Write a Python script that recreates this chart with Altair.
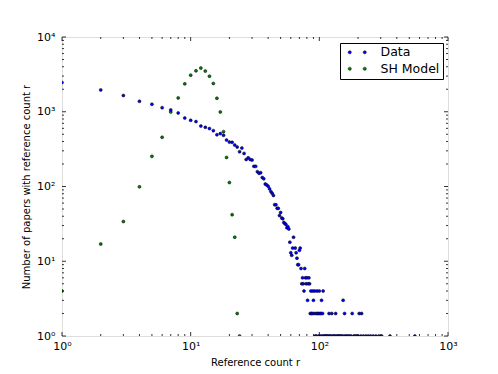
import altair as alt
import pandas as pd

# ---- data ----
data_r = [1, 2, 3, 4, 5, 6, 7, 8, 9, 10, 11, 12, 13, 14, 15, 16, 17, 18, 19, 20,
          21, 22, 23, 24, 25, 26, 27, 28, 29, 30, 31, 32, 33, 34, 35, 36, 37, 38, 39, 40,
          41, 42, 43, 44, 45, 46, 47, 48, 49, 50, 51, 52, 53, 54, 55, 56, 57, 58, 59, 60,
          61, 62, 63, 65, 66, 67, 68, 69, 70, 71]
data_n = [2460, 1960, 1650, 1380, 1260, 1135, 1057, 965, 825, 768, 738, 645, 619, 595, 559, 493, 510, 484, 418, 393,
          390, 358, 337, 292, 327, 277, 230, 242, 230, 226, 186, 186, 158, 150, 153, 132, 127, 108, 105, 101,
          93, 86, 81, 76, 57, 57, 51, 51, 41, 45, 38, 37, 33, 32, 31, 28, 29, 27, 18, 13,
          12, 15, 21, 15, 13, 11, 9, 9, 14, 15]

# sparse tail: rows of equal counts
tail_8 = [72, 77]
tail_6 = [74, 78, 80, 83]
tail_5 = [73, 75, 79, 82, 84]
tail_4 = [76, 86, 89, 92, 96, 100, 107]
tail_3 = [81, 90, 104, 153]
tail_2 = [85, 87, 88, 91, 94, 97, 98, 101, 103, 106, 119, 125, 134, 157, 180, 204, 213]
tail_1 = [93, 95, 99, 102, 105, 108, 110, 112, 114, 116, 118, 121, 123, 127, 130, 132, 136,
          139, 141, 144, 147, 150, 155, 160, 163, 167, 172, 176, 185, 190, 195, 200, 210,
          220, 230, 240, 250, 262, 275, 290, 305, 354, 553]

model_r = [1, 2, 3, 4, 5, 6, 7, 8, 9, 10, 11, 12, 13, 14, 15, 16, 17, 18, 19, 20, 21, 22, 23, 24]
model_n = [4, 17, 34, 99, 253, 455, 994, 1532, 2360, 3090, 3530, 3840, 3500, 2990, 2390, 1515,
           994, 542, 245, 113, 42, 21, 2, 1]

series_names = ["Data", "SH Model"]
series_colors = ["#0000ff", "#008000"]

x_major = [1, 10, 100, 1000]
y_major = [1, 10, 100, 1000, 10000]
mults = [2, 3, 4, 5, 6, 7, 8, 9]
x_minor = [m * d for d in [1, 10, 100] for m in mults]
y_minor = [m * d for d in [1, 10, 100, 1000] for m in mults]

# ---- build table ----
rows = [(r, n, "Data") for r, n in zip(data_r, data_n)]
for cnt, lst in [(8, tail_8), (6, tail_6), (5, tail_5), (4, tail_4), (3, tail_3), (2, tail_2), (1, tail_1)]:
    rows += [(r, cnt, "Data") for r in lst]
rows += [(r, n, "SH Model") for r, n in zip(model_r, model_n)]
df = pd.DataFrame(rows, columns=["x", "y", "series"])

W, H = 386, 299
FONT = "DejaVu Sans"

xs = alt.Scale(type="log", domain=[1, 1000], nice=False)
ys = alt.Scale(type="log", domain=[1, 10000], nice=False)

sup = ("datum.value < 5 ? '10⁰' : datum.value < 50 ? '10¹' : datum.value < 500 ? '10²' : "
       "datum.value < 5000 ? '10³' : '10⁴'")

# two-dot legend symbol (path scaled by sqrt(size)/2)
two_dots = ("M-1.82,0a0.32,0.32 0 1,0 0.64,0a0.32,0.32 0 1,0 -0.64,0Z "
            "M1.18,0a0.32,0.32 0 1,0 0.64,0a0.32,0.32 0 1,0 -0.64,0Z")

x_axis = alt.Axis(values=x_major, labelExpr=sup, ticks=False, domain=False, grid=False,
                  title="Reference count r", labelPadding=4, titlePadding=6, labelFlush=False,
                  labelFontSize=11, titleFontSize=10, labelFont=FONT, titleFont=FONT,
                  titleFontWeight="normal", labelColor="black", titleColor="black")
y_axis = alt.Axis(values=y_major, labelExpr=sup, ticks=False, domain=False, grid=False,
                  title="Number of papers with reference count r", labelPadding=7,
                  titlePadding=5, labelFlush=False, labelFontSize=11, titleFontSize=10,
                  labelFont=FONT, titleFont=FONT, titleFontWeight="normal",
                  labelColor="black", titleColor="black")

points = alt.Chart(df).mark_point(
    filled=True, size=9, stroke="#000000", strokeWidth=0.5, opacity=1, clip=True
).encode(
    x=alt.X("x:Q", scale=xs, axis=x_axis),
    y=alt.Y("y:Q", scale=ys, axis=y_axis),
    color=alt.Color("series:N",
                    scale=alt.Scale(domain=series_names, range=series_colors),
                    legend=alt.Legend(title=None, orient="none", legendX=278, legendY=6,
                                      symbolType=two_dots, symbolSize=100,
                                      symbolStrokeColor="black", symbolStrokeWidth=0.5,
                                      symbolOffset=8, labelOffset=17, padding=3,
                                      rowPadding=3.5, labelFontSize=12.5, labelFont=FONT,
                                      labelColor="black", strokeColor="black",
                                      fillColor="white", cornerRadius=0)),
    order=alt.Order("series:N", sort="descending"),
)

xt_major = pd.DataFrame({"x": x_major})
xt_minor = pd.DataFrame({"x": x_minor})
yt_major = pd.DataFrame({"y": y_major})
yt_minor = pd.DataFrame({"y": y_minor})


def xticks(d, ln):
    b = alt.Chart(d).mark_rule(color="black", strokeWidth=0.8).encode(
        x=alt.X("x:Q", scale=xs, axis=x_axis), y=alt.value(H), y2=alt.value(H - ln))
    t = alt.Chart(d).mark_rule(color="black", strokeWidth=0.8).encode(
        x=alt.X("x:Q", scale=xs, axis=x_axis), y=alt.value(0), y2=alt.value(ln))
    return [b, t]


def yticks(d, ln):
    l = alt.Chart(d).mark_rule(color="black", strokeWidth=0.8).encode(
        y=alt.Y("y:Q", scale=ys, axis=y_axis), x=alt.value(0), x2=alt.value(ln))
    r = alt.Chart(d).mark_rule(color="black", strokeWidth=0.8).encode(
        y=alt.Y("y:Q", scale=ys, axis=y_axis), x=alt.value(W), x2=alt.value(W - ln))
    return [l, r]


layers = [points] + xticks(xt_major, 4) + xticks(xt_minor, 2) + yticks(yt_major, 4) + yticks(yt_minor, 2)

chart = alt.layer(*layers).properties(
    width=W, height=H,
    autosize=alt.AutoSizeParams(type="none"),
    padding={"left": 54, "top": 29, "right": 40, "bottom": 30},
    background="white",
).configure_view(stroke="black", strokeWidth=1).configure(font=FONT)

chart.save("out.html", embed_options={"renderer": "svg", "actions": False})
